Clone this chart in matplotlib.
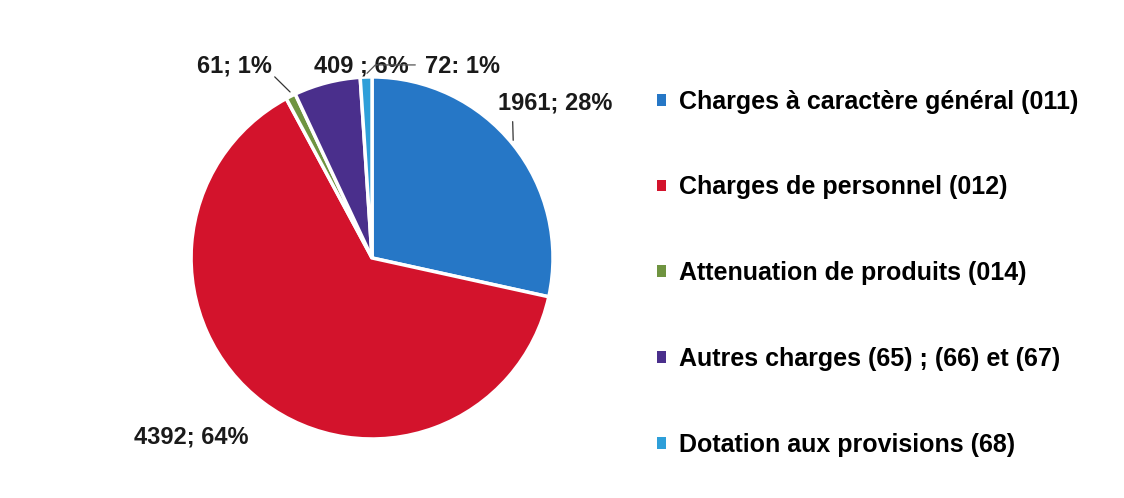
import matplotlib.pyplot as plt
from matplotlib import font_manager

categories = ['Charges à caractère général (011)',
              'Charges de personnel (012)',
              'Attenuation de produits (014)',
              'Autres charges (65) ; (66) et (67)',
              'Dotation aux provisions (68)']
values = [1961, 4392, 61, 409, 72]
data_labels = ['1961; 28%', '4392; 64%', '61; 1%', '409 ; 6%', '72: 1%']
colors = ['#2677c6', '#d3132c', '#6f9440', '#4a2f8c', '#2e9fd9']

names = {f.name for f in font_manager.fontManager.ttflist}
family = 'Liberation Sans Narrow' if 'Liberation Sans Narrow' in names else 'Liberation Sans'
plt.rcParams['font.family'] = [family, 'DejaVu Sans']

fig = plt.figure(figsize=(11.24, 4.98), dpi=100)
ax = fig.add_axes([0.170, 0.1185, 0.322, 0.727])
wedges, _ = ax.pie(values, colors=colors, startangle=90, counterclock=False,
                   wedgeprops=dict(edgecolor='white', linewidth=2.5))
ax.set_xlim(-1, 1)
ax.set_ylim(-1, 1)
ax.set_aspect('auto')
ax.axis('off')

# positions des étiquettes (coordonnées données du camembert)
label_pos = [(1.01, 0.855), (-1.0, -0.99), (-0.76, 1.06), (-0.06, 1.06), (0.50, 1.06)]
tkw = dict(fontsize=17, fontweight='bold', color='#1a1a1a', ha='center', va='center',
           annotation_clip=False)
ax.annotate(data_labels[0], xy=(0.78, 0.65), xytext=label_pos[0],
            arrowprops=dict(arrowstyle='-', color='#333333', lw=0.9,
                            shrinkA=3, shrinkB=0, relpos=(0.13, 0.0)), **tkw)
ax.annotate(data_labels[1], xy=label_pos[1], **tkw)
ax.annotate(data_labels[2], xy=(-0.453, 0.917), xytext=label_pos[2],
            arrowprops=dict(arrowstyle='-', color='#333333', lw=0.9,
                            shrinkA=0, shrinkB=0, relpos=(1.0, 0.15)), **tkw)
ax.annotate(data_labels[3], xy=label_pos[3], **tkw)
ax.annotate(data_labels[4], xy=(-0.028, 1.02), xytext=label_pos[4],
            arrowprops=dict(arrowstyle='-', color='#555555', lw=0.9,
                            connectionstyle='angle,angleA=0,angleB=45',
                            shrinkA=5, shrinkB=0, relpos=(0.0, 0.55)), **tkw)

leg = fig.legend(wedges, categories, loc='upper left', bbox_to_anchor=(0.5735, 0.845),
                 frameon=False, prop=dict(size=18, weight='bold'),
                 handlelength=0.34, handleheight=0.34, handletextpad=0.55,
                 labelspacing=2.47, borderpad=0)
for h in leg.legend_handles:
    h.set_edgecolor('none')

fig.savefig('out.png', dpi=100)
